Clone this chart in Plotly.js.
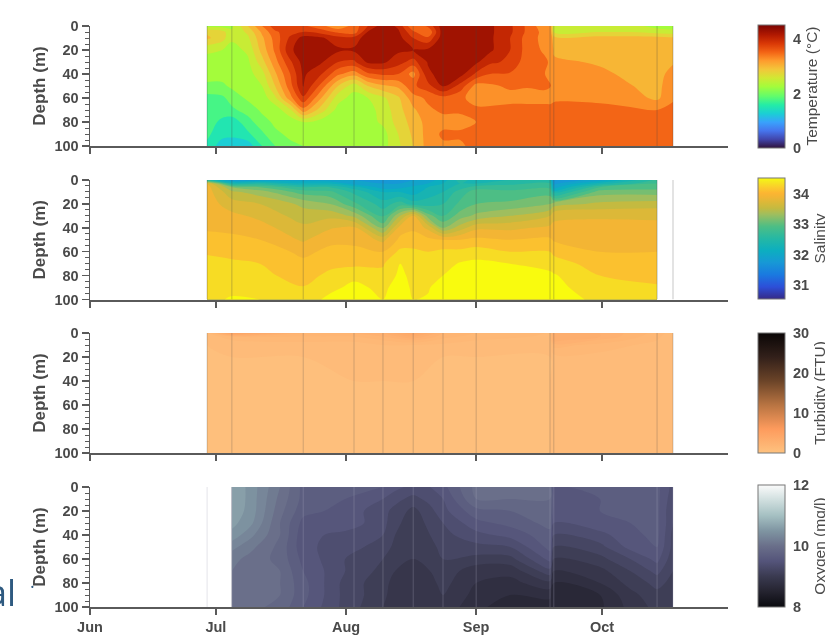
<!DOCTYPE html>
<html><head><meta charset="utf-8">
<script src="https://cdn.plot.ly/plotly-3.0.1.min.js"></script>
<style>html,body{margin:0;padding:0;background:#fff;overflow:hidden}#c{width:825px;height:637px;filter:blur(0.45px)}</style>
</head><body><div id="c"></div><script>
const monthTicks=[0,30,61,92,122];
const monthLabels=["Jun","Jul","Aug","Sep","Oct"];
const stationDays=[27.9,33.8,50.8,62.9,69.8,77,84.1,92,109.6,110.5,135.1,138.9];

const tempDepths=[0,5,10,20,30,40,50,60,70,80,90,100];
const tempDays=[27.9,31.5,33.8,37.6,41,44.1,47.7,50.8,54.8,59.1,62.9,66.2,69.8,73.4,77,80.5,84.1,88.2,92,95.3,100.1,104.1,108.4,109.8,110.6,121.5,128.7,135.1,138.9];
const tempProfiles=[
[2.4,2.95,3.05,2.55,2.4,2.35,2.2,1.9,1.75,1.85,1.8,1.7],
[2.4,2.85,2.85,2.5,2.4,2.35,2.2,1.95,1.85,1.7,1.6,1.35],
[2.45,2.55,2.55,2.4,2.4,2.35,2.3,2.1,1.95,1.6,1.6,1.25],
[3.0,2.8,2.7,2.55,2.45,2.4,2.35,2.3,2.1,1.9,1.7,1.35],
[3.5,3.3,3.2,3.1,2.9,2.65,2.5,2.35,2.3,2.15,1.95,1.75],
[3.9,3.7,3.6,3.55,3.4,3.2,3.0,2.7,2.35,2.3,2.2,2.0],
[4.0,3.9,4.05,4.2,3.95,3.75,3.65,3.4,2.7,2.35,2.3,2.2],
[3.8,4.0,4.35,4.4,4.35,4.3,4.27,3.95,3.4,2.5,2.3,2.25],
[3.6,3.9,4.3,4.35,4.3,4.05,3.7,3.3,2.9,2.4,2.3,2.3],
[3.3,3.7,4.1,4.3,4.0,3.55,3.0,2.6,2.4,2.3,2.3,2.3],
[3.6,3.6,4.1,4.3,3.95,3.35,2.6,2.4,2.35,2.35,2.35,2.35],
[4.0,4.27,4.4,4.4,4.3,3.7,3.0,2.5,2.4,2.4,2.35,2.35],
[4.4,4.4,4.4,4.4,4.3,3.8,3.2,2.7,2.6,2.55,2.4,2.4],
[4.2,4.3,4.35,4.3,4.1,3.75,3.3,2.95,2.9,2.85,2.75,2.7],
[3.5,3.8,4.0,4.25,3.9,3.4,3.7,3.4,3.2,3.1,3.05,3.0],
[3.8,3.5,3.8,4.3,4.27,4.2,3.9,3.55,3.45,3.35,3.35,3.35],
[4.4,4.4,4.4,4.4,4.4,4.35,4.3,3.65,3.55,3.4,3.55,3.45],
[4.4,4.4,4.4,4.4,4.4,4.35,3.9,3.55,3.55,3.4,3.55,3.45],
[4.4,4.4,4.4,4.35,4.3,3.95,3.4,3.4,3.55,3.5,3.6,3.6],
[4.3,4.3,4.3,4.3,4.05,3.75,3.45,3.4,3.55,3.6,3.6,3.6],
[4.05,4.05,4.0,4.0,3.95,3.72,3.55,3.4,3.6,3.6,3.6,3.6],
[3.7,3.7,3.65,3.65,3.6,3.55,3.52,3.4,3.6,3.6,3.6,3.6],
[3.3,3.4,3.4,3.45,3.55,3.5,3.55,3.4,3.6,3.6,3.6,3.6],
[3.25,3.3,3.35,3.4,3.45,3.45,3.5,3.4,3.6,3.6,3.6,3.6],
[2.6,2.7,3.1,3.2,3.3,3.35,3.4,3.45,3.6,3.6,3.6,3.6],
[2.6,2.75,3.1,3.15,3.22,3.3,3.35,3.42,3.6,3.6,3.6,3.6],
[2.6,2.75,3.1,3.12,3.15,3.2,3.26,3.35,3.55,3.6,3.6,3.6],
[2.4,2.65,3.1,3.1,3.12,3.15,3.18,3.2,3.5,3.6,3.6,3.6],
[2.35,2.6,3.05,3.1,3.22,3.35,3.4,3.45,3.6,3.6,3.6,3.6]];

const salDepths=[0,3,6,10,20,30,40,50,60,70,80,90,100];
const salDays=[27.9,33.8,40.5,50.8,57.2,62.9,69.8,73.9,77,80.5,84.1,88.2,92,100.1,109.6,110.5,121.5,135.1];
const salProfiles=[
[32.6,33.95,34.0,34.0,34.0,34.02,34.08,34.15,34.28,34.35,34.38,34.42,34.45],
[31.8,32.5,33.3,33.55,33.8,33.95,34.05,34.15,34.25,34.33,34.38,34.45,34.52],
[31.9,32.6,33.1,33.4,33.7,33.85,33.98,34.1,34.22,34.3,34.35,34.42,34.5],
[32.0,32.3,32.7,33.0,33.45,33.6,33.75,33.87,34.05,34.15,34.22,34.31,34.4],
[31.95,32.3,32.7,32.95,33.3,33.65,33.88,34.05,34.15,34.25,34.35,34.45,34.55],
[31.9,32.0,32.4,32.65,32.95,33.45,33.95,34.05,34.15,34.25,34.45,34.55,34.6],
[31.8,31.9,32.0,32.3,32.6,32.85,33.25,33.85,34.1,34.28,34.35,34.45,34.5],
[31.85,31.9,32.05,32.3,32.8,33.5,34.0,34.15,34.35,34.5,34.55,34.6,34.6],
[31.9,32.0,32.15,32.2,32.6,33.95,34.05,34.22,34.33,34.4,34.44,34.46,34.5],
[32.0,32.1,32.3,32.4,32.6,33.2,33.85,34.15,34.3,34.4,34.42,34.48,34.52],
[32.2,32.3,32.4,32.5,32.7,32.9,33.3,34.1,34.35,34.42,34.5,34.6,34.6],
[32.6,32.5,32.6,32.8,32.95,33.2,33.6,34.1,34.35,34.52,34.55,34.6,34.6],
[32.4,32.5,32.8,33.0,33.1,33.35,33.85,34.15,34.4,34.55,34.6,34.6,34.6],
[32.5,32.65,32.8,32.95,33.15,33.5,33.85,34.1,34.3,34.5,34.55,34.6,34.6],
[32.5,32.7,32.85,33.0,33.3,33.7,33.95,34.13,34.3,34.45,34.53,34.6,34.6],
[31.7,31.85,32.0,32.4,33.4,33.85,33.95,34.08,34.25,34.4,34.52,34.55,34.6],
[32.0,32.4,32.9,33.2,33.55,33.88,33.95,34.02,34.1,34.2,34.3,34.4,34.45],
[32.75,32.9,33.0,33.2,33.6,33.87,33.95,34.0,34.1,34.17,34.25,34.32,34.38]];

const turbDepths=[0,3,6,10,20,40,60,80,100];
const turbDays=[27.9,33.8,50.8,62.9,69.8,77,84.1,92,109.6,110.5,121.5,135.1,138.9];
const turbProfiles=[
[1.5,1,1,1,1,1,1,1,1],
[5,2.0,1.5,1.2,1,1,1,1,1],
[2.5,2,1.6,1.3,1,1,1,1,1],
[2.5,2,1.6,1.3,1.1,1,1,1,1],
[3,2.5,2,1.5,1.1,1,1,1,1],
[4.5,3.5,2.5,1.5,1.1,1,1,1,1],
[2.5,2.2,1.8,1.4,1,1,1,1,1],
[2,1.8,1.5,1.3,1,1,1,1,1],
[1.5,1.4,1.4,1.2,1,1,1,1,1],
[3.5,3.5,3.2,2.2,1.3,1.1,1.1,1.1,1.1],
[3,3,2.4,1.8,1.3,1.2,1.2,1.2,1.2],
[1.8,1.6,1.5,1.3,1.2,1.1,1.1,1.1,1.1],
[1.2,1.2,1.2,1.1,1.1,1.1,1.1,1.1,1.1]];

const oxyDepths=[0,10,20,30,40,50,60,70,80,90,100];
const oxyDays=[33.8,38.1,45.3,50.8,60.8,69.8,72.7,77,81,84.1,92,100.1,109.6,110.5,121.5,128.7,135.1,138.9];
const oxyProfiles=[
[10.7,10.7,10.65,10.6,10.5,10.3,10.15,10.1,10.05,10.0,10.05],
[10.5,10.5,10.5,10.45,10.3,10.15,10.05,10.0,10.0,10.05,10.0],
[10.1,10.05,10.0,9.95,9.95,9.9,9.9,9.95,9.95,9.95,9.9],
[9.75,9.75,9.7,9.6,9.55,9.55,9.6,9.65,9.7,9.7,9.65],
[9.7,9.65,9.6,9.6,9.45,9.4,9.35,9.35,9.3,9.3,9.3],
[9.65,9.5,9.4,9.4,9.35,9.3,9.2,9.15,9.1,9.1,9.05],
[9.55,9.4,9.3,9.25,9.2,9.15,9.1,9.05,9.0,8.95,9.0],
[9.45,9.3,9.15,9.1,9.15,9.1,9.05,9.0,8.95,8.9,8.9],
[9.5,9.4,9.3,9.25,9.2,9.15,9.1,9.05,9.0,8.95,8.95],
[9.6,9.5,9.45,9.35,9.3,9.25,9.2,9.15,9.1,9.05,9.0],
[10.0,9.95,9.75,9.6,9.45,9.3,9.15,8.95,8.9,8.85,8.8],
[10.0,9.95,9.8,9.7,9.55,9.35,9.15,8.95,8.85,8.75,8.65],
[10.0,9.95,9.9,9.85,9.75,9.7,9.55,9.3,9.0,8.8,8.65],
[9.65,9.65,9.6,9.5,9.35,9.2,9.05,8.9,8.75,8.62,8.6],
[9.7,9.65,9.65,9.6,9.45,9.3,9.15,9.0,8.9,8.75,8.72],
[9.7,9.7,9.7,9.65,9.6,9.55,9.35,9.2,9.1,9.0,8.95],
[9.7,9.7,9.7,9.7,9.7,9.65,9.55,9.4,9.25,9.15,9.1],
[9.45,9.4,9.35,9.35,9.3,9.3,9.25,9.2,9.15,9.1,9.1]];

const turbo=[[0,'#30123b'],[.07,'#4145ab'],[.14,'#4675ed'],[.21,'#39a2fc'],[.28,'#1bcfd4'],[.35,'#24eca6'],[.42,'#61fc6c'],[.5,'#a4fc3b'],[.57,'#d1e834'],[.64,'#f3c63a'],[.71,'#fe9b2d'],[.78,'#f36315'],[.85,'#d93806'],[.92,'#b11901'],[1,'#7a0402']];
const parula=[[0,'#352a87'],[.1,'#2d4fd8'],[.2,'#1a79e0'],[.3,'#1798d6'],[.4,'#0caec0'],[.5,'#25b8a4'],[.6,'#4dbe85'],[.7,'#9fbe5e'],[.75,'#c4ba40'],[.8,'#dcb838'],[.84,'#f0b535'],[.875,'#fcb532'],[.92,'#fbcb2c'],[.97,'#f5e81f'],[1,'#f9fb0e']];
const copper=[[0,'#fec27f'],[.2,'#fd9b5d'],[.4,'#b87442'],[.6,'#6b4428'],[.8,'#32201a'],[1,'#0a0606']];
const bone=[[0,'#0a0a0f'],[.125,'#24232f'],[.25,'#3a3a50'],[.375,'#54547a'],[.5,'#6a6f8a'],[.625,'#7f95a2'],[.75,'#a5c0c2'],[.875,'#cfdede'],[1,'#fbfbfb']];

const panels=[
 {days:tempDays,depths:tempDepths,prof:tempProfiles,cs:turbo,zmin:0,zmax:4.55,start:.25,end:4.5,size:.25,title:'Temperature (°C)',tv:[0,2,4],top:24.5,bot:147,line:'rgba(70,70,70,.3)'},
 {days:salDays,depths:salDepths,prof:salProfiles,cs:parula,zmin:30.53,zmax:34.53,start:30.7,end:34.5,size:.2,title:'Salinity',tv:[31,32,33,34],top:178,bot:299,line:'rgba(70,70,70,.3)'},
 {days:turbDays,depths:turbDepths,prof:turbProfiles,cs:copper,zmin:0,zmax:30,start:.5,end:29.5,size:.5,title:'Turbidity (FTU)',tv:[0,10,20,30],top:333,bot:453,line:'rgba(70,70,70,.25)'},
 {days:oxyDays,depths:oxyDepths,prof:oxyProfiles,cs:bone,zmin:8,zmax:12,start:8.15,end:11.9,size:.15,title:'Oxygen (mg/l)',tv:[8,10,12],top:485,bot:607,line:'rgba(170,170,190,.3)'}
];
const domains=[[26,146],[180,299.5],[333,453],[487,607]];
const W=825,H=637,L=90,R=728,T=26,B=607;
const tf={family:'Liberation Sans, Arial, sans-serif',size:14.5,color:'#4a4a4a',weight:'bold'};
const ink='#5a5a5a';
const traces=[];const layout={width:W,height:H,margin:{l:L,r:W-R,t:T,b:H-B,autoexpand:false},paper_bgcolor:'#fff',plot_bgcolor:'#fff',showlegend:false,shapes:[],
 annotations:[
  {xref:'paper',yref:'paper',x:(18-L)/(R-L),y:(B-592)/(B-T),xanchor:'right',yanchor:'middle',text:'al',showarrow:false,font:{family:'Open Sans',size:36,color:'#2f5a80'}},
  {xref:'paper',yref:'paper',x:(32-L)/(R-L),y:(B-581)/(B-T),xanchor:'center',yanchor:'middle',text:'.',showarrow:false,font:{family:'Open Sans',size:18,color:'#2f5a80'}}
 ]};
panels.forEach((p,i)=>{
 const n=i+1,xa=n===1?'x':'x'+n,ya=n===1?'y':'y'+n;
 const xk=n===1?'xaxis':'xaxis'+n,yk=n===1?'yaxis':'yaxis'+n;
 const z=p.depths.map((_,r)=>p.prof.map(c=>c[r]));
 traces.push({type:'contour',x:p.days,y:p.depths,z:z,xaxis:xa,yaxis:ya,colorscale:p.cs,zauto:false,zmin:p.zmin,zmax:p.zmax,autocontour:false,
   contours:{coloring:'fill',start:p.start,end:p.end,size:p.size,showlines:false},line:{width:0},showscale:false,hoverinfo:'skip'});
 traces.push({type:'scatter',mode:'markers',x:[p.days[0]],y:[p.depths[0]],xaxis:xa,yaxis:ya,hoverinfo:'skip',
   marker:{size:1,opacity:0,color:[p.zmin],cmin:p.zmin,cmax:p.zmax,colorscale:p.cs,showscale:true,
    colorbar:{x:(758-L)/(R-L),xanchor:'left',xpad:0,y:(B-p.top)/(B-T),yanchor:'top',ypad:0,lenmode:'pixels',len:p.bot-p.top,thicknessmode:'pixels',thickness:27,
     outlinecolor:'#777',outlinewidth:1,borderwidth:0,ticks:'outside',ticklen:5,tickcolor:'rgba(0,0,0,0)',tickmode:'array',tickvals:p.tv,ticktext:p.tv.map(String),ticksuffix:'\u00a0',tickfont:tf,
     title:{text:p.title,side:'right',font:{family:'Liberation Sans, Arial, sans-serif',size:15.5,color:'#4a4a4a'}}}}});
 const d=domains[i];
 layout[xk]={domain:[0,1],range:[0,152],anchor:ya,showgrid:false,zeroline:false,showline:true,linecolor:ink,linewidth:2,ticks:'outside',ticklen:6,tickwidth:1.5,tickcolor:ink,tickmode:'array',tickvals:monthTicks,ticktext:monthLabels,showticklabels:i===3,tickfont:tf,fixedrange:true};
 layout[yk]={domain:[(B-d[1])/(B-T),(B-d[0])/(B-T)],range:[100,0],anchor:xa,showgrid:false,zeroline:false,showline:true,linecolor:ink,linewidth:1.5,ticks:'outside',ticklen:7,tickwidth:1.5,tickcolor:ink,tick0:0,dtick:20,tickfont:tf,
   minor:{ticks:'outside',ticklen:4,tickwidth:1,tickcolor:ink,dtick:5,tick0:0},title:{text:'Depth (m)',standoff:4,font:{family:'Liberation Sans, Arial, sans-serif',size:17,color:'#4a4a4a',weight:'bold'}},fixedrange:true};
 stationDays.forEach(s=>layout.shapes.push({type:'line',xref:xa,yref:ya,x0:s,x1:s,y0:0,y1:100,line:{color:p.line,width:1}}));
});
Plotly.newPlot('c',traces,layout,{staticPlot:true,displayModeBar:false});
</script></body></html>
